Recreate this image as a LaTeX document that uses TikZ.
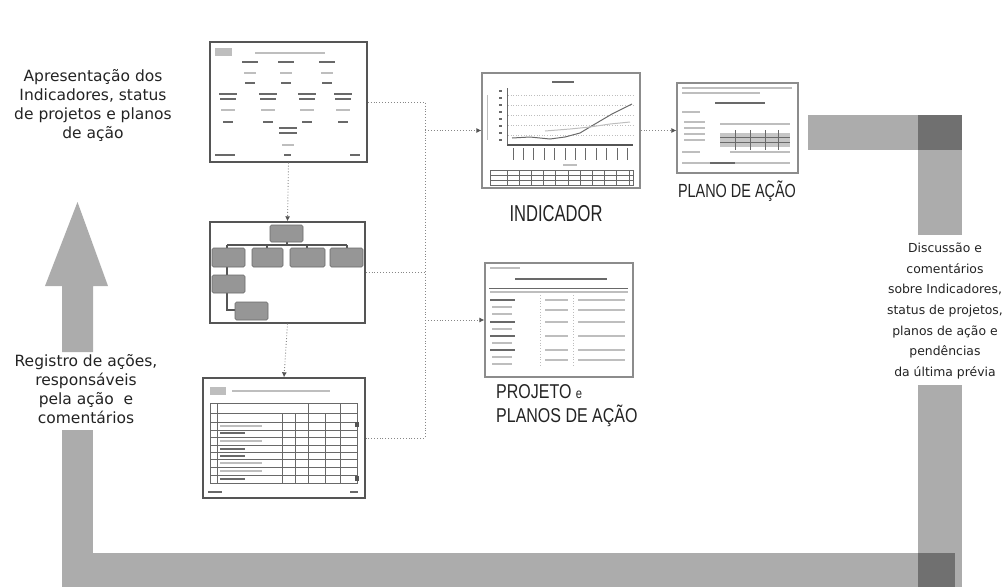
\documentclass[tikz,border=0pt]{standalone}
\usepackage{fontspec}
\setmainfont{DejaVu Sans}
\newfontfamily\narrowA[FakeStretch=0.72]{Liberation Sans}
\newfontfamily\narrowB[FakeStretch=0.76]{Liberation Sans}
\newfontfamily\narrowC[FakeStretch=0.80]{Liberation Sans}
\usetikzlibrary{arrows.meta}
\definecolor{band}{RGB}{172,172,172}
\definecolor{corner}{RGB}{112,112,112}
\definecolor{txt}{RGB}{35,35,35}
\definecolor{frm}{RGB}{85,85,85}
\definecolor{frmlight}{RGB}{140,140,140}
\definecolor{ink}{RGB}{105,105,105}
\definecolor{faint}{RGB}{190,190,190}
\definecolor{dotc}{RGB}{135,135,135}
\definecolor{boxg}{RGB}{150,150,150}
\begin{document}
\begin{tikzpicture}[x=1pt,y=-1pt,
  slide/.style={draw=frm,line width=1.4pt,inner sep=0pt,rectangle},
  doc/.style={draw=frmlight,line width=1.2pt,inner sep=0pt,rectangle},
  conn/.style={draw=dotc,dotted,line width=0.9pt},
  arr/.style={conn,-{Latex[length=5pt,width=5pt,color=frm]}},
  sidetext/.style={text=txt,align=center,inner sep=0pt},
  lab/.style={text=txt,inner sep=0pt},
  orgbox/.style={fill=boxg,draw=ink,line width=0.6pt,rounded corners=1.5pt},
  orgline/.style={draw=frm,line width=2pt},
  tline/.style={draw=ink,line width=0.8pt},
  stroke/.style={draw=ink,line width=2pt},
  fstroke/.style={draw=faint,line width=2pt}]
\useasboundingbox (0,0) rectangle (1002,587);

% ---- grey cycle bands ----
\fill[band] (808,115) rectangle (918,150);
\fill[corner] (918,115) rectangle (962,150);
\fill[band] (918,150) rectangle (962,235);
\fill[band] (918,385) rectangle (962,587);
\fill[corner] (918,553) rectangle (955,587);
\fill[band] (93,553) rectangle (918,587);
\fill[band] (62,430) rectangle (93,587);
\fill[band] (62,352) -- (62,286) -- (45,286) -- (77.5,202) -- (108,286) -- (93,286) -- (93,352) -- cycle;

% ---- side texts ----
\node[sidetext,font=\fontsize{15.5}{19}\selectfont] (t1) at (93,105)
  {Apresentação dos\\Indicadores, status\\de projetos e planos\\de ação};
\node[sidetext,font=\fontsize{15.5}{19}\selectfont] (t2) at (86,389)
  {Registro de ações,\\responsáveis\\pela ação\ \ e\\comentários};
\node[sidetext,font=\fontsize{12.4}{20.7}\selectfont] (t3) at (945,311)
  {Discussão e\\comentários\\sobre Indicadores,\\status de projetos,\\planos de ação e\\pendências\\da última prévia};

% ---- frames ----
\node[slide,minimum width=157pt,minimum height=120pt] (s1) at (288.5,102) {};
\node[slide,minimum width=155pt,minimum height=101pt] (s2) at (287.5,272.5) {};
\node[slide,minimum width=162pt,minimum height=120pt] (s3) at (284,438) {};
\node[doc,minimum width=158pt,minimum height=115pt] (ind) at (561,130.5) {};
\node[doc,minimum width=121pt,minimum height=90pt] (pl) at (737.5,128) {};
\node[doc,minimum width=148pt,minimum height=114pt] (pj) at (559,320) {};

% ---- slide 1 content ----
\fill[faint] (215,48) rectangle (232,56);
\draw[fstroke] (255,53) -- (325,53);
\foreach \x in {250,286,327}{
  \draw[stroke] ({\x-8},62) -- ({\x+8},62);
  \draw[fstroke] ({\x-6},73) -- ({\x+6},73);
  \draw[stroke] ({\x-5},83) -- ({\x+5},83);}
\foreach \x in {228,268,307,343}{
  \draw[stroke] ({\x-9},94) -- ({\x+9},94);
  \draw[stroke] ({\x-8},99) -- ({\x+8},99);
  \draw[fstroke] ({\x-7},110) -- ({\x+7},110);
  \draw[stroke] ({\x-5},122) -- ({\x+5},122);}
\draw[stroke] (279,128) -- (297,128);
\draw[stroke] (279,133) -- (297,133);
\draw[fstroke] (282,145) -- (294,145);
\draw[stroke] (215,155) -- (235,155);
\draw[stroke] (284,155) -- (291,155);
\draw[stroke] (350,155) -- (360,155);

% ---- slide 2 content (org chart) ----
\draw[orgline] (287,242) -- (287,245);
\draw[orgline] (227,245) -- (347,245);
\foreach \x in {227,267,307,347}{\draw[orgline] (\x,245) -- (\x,248);}
\draw[orgline] (227,267) -- (227,275);
\draw[orgline] (227,293) -- (227,310) -- (235,310);
\draw[orgbox] (270,225) rectangle (303,242);
\draw[orgbox] (212,248) rectangle (245,267);
\draw[orgbox] (252,248) rectangle (283,267);
\draw[orgbox] (290,248) rectangle (325,267);
\draw[orgbox] (330,248) rectangle (363,267);
\draw[orgbox] (212,275) rectangle (245,293);
\draw[orgbox] (235,302) rectangle (268,320);

% ---- slide 3 content (table) ----
\fill[faint] (210,387) rectangle (226,395);
\draw[fstroke] (232,391) -- (330,391);
\draw[tline] (210,403) rectangle (357,483);
\foreach \y in {413,422,430,437,445,452,459,467,475}{\draw[tline] (210,\y) -- (357,\y);}
\foreach \x in {217,308,340}{\draw[tline] (\x,403) -- (\x,483);}
\foreach \x in {282,295,325}{\draw[tline] (\x,413) -- (\x,483);}
\foreach \y in {426,441,463,471}{\draw[fstroke,line width=1.5pt] (220,\y) -- (262,\y);}
\foreach \y in {433,449,456,479}{\draw[stroke,line width=1.5pt] (220,\y) -- (245,\y);}
\fill[frm] (355,422) rectangle (359,427);
\fill[frm] (355,476) rectangle (359,481);
\draw[stroke,line width=1.2pt] (208,492) -- (222,492);
\draw[stroke,line width=1.2pt] (350,492) -- (358,492);

% ---- indicator content (chart) ----
\draw[stroke,line width=1.5pt] (552,82) -- (574,82);
\foreach \y in {90,97,104,111,118,125,132,139}{\fill[ink] (499,\y) rectangle (502,{\y+2});}
\foreach \y in {95,105,115,125,135}{\draw[faint,dotted,line width=0.6pt] (508,\y) -- (633,\y);}
\draw[ink,line width=1pt] (507,88) -- (507,145);
\draw[frm,line width=1.6pt] (507,145) -- (633,145);
\draw[ink,line width=1pt] (512,138) -- (530,137) -- (550,139) -- (565,137) -- (580,133) -- (595,124) -- (612,114) -- (632,104);
\draw[faint,line width=1pt] (545,131) -- (570,129) -- (590,127) -- (610,124) -- (630,122);
\foreach \i in {0,...,11}{\draw[ink,line width=1pt] ({513+10.4*\i},148) -- ({513+10.4*\i},160);}
\draw[fstroke,line width=1.2pt] (563,165) -- (577,165);
\draw[tline] (490,170) rectangle (633,185);
\draw[tline] (490,175) -- (633,175);
\draw[tline] (490,180) -- (633,180);
\foreach \i in {0,...,10}{\draw[tline] ({507+12.2*\i},170) -- ({507+12.2*\i},185);}
\draw[faint,line width=1pt] (487,95) -- (487,140);

% ---- plano de acao content ----
\draw[faint,line width=1.2pt] (682,88) -- (792,88);
\draw[faint,line width=1.2pt] (682,93) -- (760,93);
\draw[stroke,line width=1.5pt] (715,103) -- (765,103);
\draw[faint,line width=1.2pt] (682,112) -- (700,112);
\foreach \y in {122,128,134,140}{\draw[faint,line width=1.2pt] (684,\y) -- (705,\y);}
\draw[faint,line width=1.2pt] (720,124) -- (790,124);
\fill[gray!45] (720,133) rectangle (790,147);
\draw[ink,line width=0.6pt] (720,137) -- (790,137);
\draw[ink,line width=0.6pt] (720,142) -- (790,142);
\foreach \x in {735,750,765,778}{\draw[ink,line width=0.6pt] (\x,130) -- (\x,150);}
\draw[faint,line width=1.2pt] (682,152) -- (700,152);
\draw[faint,line width=1.2pt] (730,152) -- (790,152);
\draw[faint,line width=1.2pt] (682,163) -- (790,163);
\draw[stroke,line width=1.5pt] (710,163) -- (735,163);

% ---- projeto content ----
\draw[faint,line width=1.2pt] (490,268) -- (520,268);
\draw[ink,line width=1.5pt] (515,279) -- (607,279);
\draw[ink,line width=0.7pt] (489,288) -- (628,288);
\draw[faint,line width=1.2pt] (490,292) -- (628,292);
\foreach \x in {540,573}{\draw[faint,dotted,line width=0.8pt] (\x,295) -- (\x,367);}
\foreach \y in {300,322,336,350}{\draw[stroke,line width=1.4pt] (490,\y) -- (515,\y);}
\foreach \y in {307,314,329,343,357,364}{\draw[fstroke,line width=1.2pt] (492,\y) -- (512,\y);}
\foreach \y in {300,310,322,336,350,360}{\draw[fstroke,line width=1.2pt] (545,\y) -- (568,\y);
  \draw[fstroke,line width=1.2pt] (578,\y) -- (625,\y);}

% ---- labels ----
\node[lab,font=\narrowA\fontsize{23}{25}\selectfont] (l1) at (556,214) {INDICADOR};
\node[lab,font=\narrowB\fontsize{19}{21}\selectfont] (l2) at (737,191) {PLANO DE AÇÃO};
\node[lab,font=\narrowC\fontsize{20}{22}\selectfont,anchor=west] (l3) at (496,392) {PROJETO \fontsize{14}{16}\selectfont e};
\node[lab,font=\narrowC\fontsize{20}{22}\selectfont,anchor=west] (l4) at (496,416) {PLANOS DE AÇÃO};

% ---- connectors ----
\coordinate (jt) at (425,102);
\coordinate (jb) at (425,438);
\draw[arr] (s1.south) -- (s2.north);
\draw[arr] (s2.south) -- (s3.north);
\draw[conn] (s1.east) -- (jt) -- (jb) -- (s3.east);
\draw[conn] (s2.east) -- (s2.east -| jt);
\draw[arr] (jt |- ind.west) -- (ind.west);
\draw[arr] (jt |- pj.west) -- (pj.west);
\draw[arr] (ind.east) -- (ind.east -| pl.west);
\end{tikzpicture}
\end{document}
